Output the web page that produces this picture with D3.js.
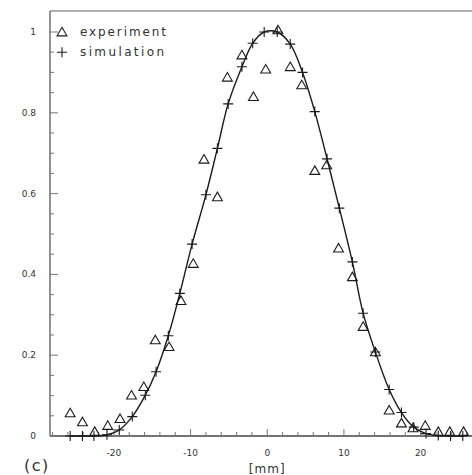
<!DOCTYPE html>
<html>
<head>
<meta charset="utf-8">
<script src="https://cdn.jsdelivr.net/npm/d3@7"></script>
<style>
  body { margin: 0; background: #fff; }
  svg { display: block; font-family: "DejaVu Sans", "Liberation Sans", sans-serif; }
</style>
</head>
<body>
<svg width="472" height="475"></svg>
<script>
// simulation points (crosses), position in mm and normalised intensity
const simX = [-25.7, -24.1, -22.6, -20.9, -19.3, -17.6, -15.9, -14.5, -12.9, -11.4, -9.8, -8.0, -6.5, -5.1, -3.3, -1.9, -0.4,
              1.3, 3.0, 4.6, 6.2, 7.8, 9.4, 11.1, 12.5, 14.1, 15.9, 17.5, 19.1, 20.7, 22.3, 23.9, 25.5];
const simY = [0, 0, 0, 0.003, 0.015, 0.048, 0.101, 0.159, 0.248, 0.353, 0.475, 0.597, 0.712, 0.822, 0.914, 0.972, 1.0,
              1.0, 0.970, 0.900, 0.803, 0.686, 0.564, 0.431, 0.304, 0.208, 0.115, 0.058, 0.022, 0.006, 0.001, 0, 0];

// experiment points (triangles)
const expX = [-25.7, -24.1, -22.5, -20.8, -19.2, -17.7, -16.1, -14.6, -12.8, -11.25, -9.65, -8.25, -6.5, -5.2, -3.3, -1.8, -0.2,
              1.4, 3.0, 4.5, 6.2, 7.75, 9.3, 11.1, 12.5, 14.1, 15.9, 17.5, 19.0, 20.6, 22.3, 23.8, 25.6];
const expY = [0.057, 0.035, 0.011, 0.026, 0.043, 0.101, 0.122, 0.238, 0.221, 0.335, 0.427, 0.685, 0.592, 0.888, 0.943, 0.840, 0.908,
              1.005, 0.914, 0.869, 0.657, 0.671, 0.465, 0.394, 0.271, 0.208, 0.064, 0.032, 0.020, 0.026, 0.011, 0.011, 0.011];

const xTicks = [-20, -10, 0, 10, 20];
const yTicks = [0, 0.2, 0.4, 0.6, 0.8, 1];
const legendLabels = ["experiment", "simulation"];

const svg = d3.select("svg");
const plotLeft = 50, plotRight = 472, plotTop = 11, plotBottom = 436;

const x = d3.scaleLinear().domain([-28.33, 26.7]).range([plotLeft, plotRight]);
const y = d3.scaleLinear().domain([0, 1]).range([plotBottom, 32]);

const ink = "#1a1a1a";
const axisGrey = "#777";

// frame
svg.append("line").attr("x1", plotLeft).attr("x2", plotRight).attr("y1", plotTop).attr("y2", plotTop)
  .attr("stroke", "#999").attr("stroke-width", 1.6);
svg.append("line").attr("x1", plotLeft).attr("x2", plotLeft).attr("y1", plotTop).attr("y2", plotBottom)
  .attr("stroke", axisGrey).attr("stroke-width", 1.6);
svg.append("line").attr("x1", plotLeft).attr("x2", plotRight).attr("y1", plotBottom).attr("y2", plotBottom)
  .attr("stroke", "#444").attr("stroke-width", 1.6);

// x ticks every 2 mm, long ones every 10
const xMinor = d3.range(-28, 27, 2);
svg.append("g").selectAll("line").data(xMinor).join("line")
  .attr("x1", d => x(d)).attr("x2", d => x(d))
  .attr("y1", plotBottom).attr("y2", d => d % 10 === 0 ? plotBottom - 7 : plotBottom - 4)
  .attr("stroke", axisGrey).attr("stroke-width", 1);

svg.append("g").selectAll("text").data(xTicks).join("text")
  .attr("x", d => x(d)).attr("y", 456)
  .attr("text-anchor", "middle")
  .attr("font-size", 9).attr("fill", "#333")
  .text(d => d < 0 ? "-" + Math.abs(d) : d);

// y ticks every 0.05, long ones every 0.2
const yMinor = d3.range(0, 21).map(i => i * 0.05);
svg.append("g").selectAll("line").data(yMinor).join("line")
  .attr("x1", plotLeft).attr("x2", (d, i) => i % 4 === 0 ? plotLeft + 8 : plotLeft + 4)
  .attr("y1", d => y(d)).attr("y2", d => y(d))
  .attr("stroke", axisGrey).attr("stroke-width", 1);

svg.append("g").selectAll("text").data(yTicks).join("text")
  .attr("x", 36).attr("y", d => y(d) + 3)
  .attr("text-anchor", "end")
  .attr("font-size", 9).attr("fill", "#333")
  .text(d => d === 0 || d === 1 ? d : d3.format(".1f")(d));

// simulation curve
const line = d3.line()
  .x((d, i) => x(simX[i]))
  .y(d => y(d))
  .curve(d3.curveCatmullRom.alpha(0.5));

svg.append("path")
  .datum(simY)
  .attr("fill", "none")
  .attr("stroke", ink)
  .attr("stroke-width", 1.4)
  .attr("d", line);

// markers
const triangle = d3.symbol().type(d3.symbolTriangle).size(42);

svg.append("g").selectAll("path").data(expY).join("path")
  .attr("transform", (d, i) => `translate(${x(expX[i])},${y(d) + 1})`)
  .attr("d", triangle)
  .attr("fill", "none")
  .attr("stroke", ink)
  .attr("stroke-width", 1.1);

const plus = "M-5,0H5M0,-5V5";
svg.append("g").selectAll("path").data(simY).join("path")
  .attr("transform", (d, i) => `translate(${x(simX[i])},${y(d)})`)
  .attr("d", plus)
  .attr("fill", "none")
  .attr("stroke", ink)
  .attr("stroke-width", 1.1);

// legend
const legend = svg.append("g");
legend.append("path")
  .attr("transform", `translate(62,${y(1) + 1})`)
  .attr("d", triangle)
  .attr("fill", "none").attr("stroke", ink).attr("stroke-width", 1.1);
legend.append("path")
  .attr("transform", `translate(62,${y(0.95)})`)
  .attr("d", plus)
  .attr("fill", "none").attr("stroke", ink).attr("stroke-width", 1.1);
legend.selectAll("text").data(legendLabels).join("text")
  .attr("x", 80).attr("y", (d, i) => y(1 - i * 0.05) + 4)
  .attr("font-size", 12).attr("fill", "#333")
  .attr("textLength", (d, i) => i === 0 ? 86 : 84)
  .text(d => d);

// axis caption and panel label
svg.append("text")
  .attr("x", x(0)).attr("y", 473)
  .attr("text-anchor", "middle")
  .attr("font-size", 12).attr("letter-spacing", 1).attr("fill", "#333")
  .text("[mm]");

svg.append("text")
  .attr("x", 24).attr("y", 471)
  .attr("font-size", 16).attr("letter-spacing", 1.5).attr("fill", "#333")
  .text("(c)");
</script>
</body>
</html>
